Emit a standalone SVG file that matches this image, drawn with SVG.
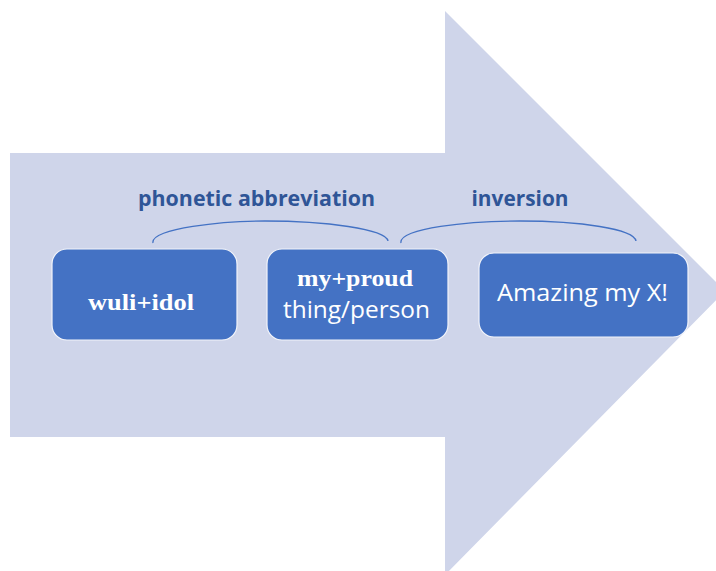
<svg xmlns="http://www.w3.org/2000/svg" width="716" height="571" viewBox="0 0 716 571">
<style>
.bg{fill:#CFD5EA}
.box{fill:#4472C4;stroke:#F2F4FA;stroke-width:1.2}
.arc{fill:none;stroke:#4472C4;stroke-width:1.3}
.lab{font-family:"Open Sans","Liberation Sans",sans-serif;font-weight:bold;fill:#2F5597;font-size:21px;text-anchor:middle}
.ser{font-family:"Liberation Serif",serif;font-weight:bold;fill:#FFFFFF;font-size:24px;text-anchor:middle}
.san{font-family:"Open Sans","Liberation Sans",sans-serif;fill:#FFFFFF;font-size:23px;text-anchor:middle}
</style>
<rect width="716" height="571" fill="#FFFFFF"/>
<polygon id="arrow" class="bg" points="10,153 445,153 445,11 725,291 445,575 445,437 10,437"/>
<g id="connectors">
<path class="arc" d="M153,243 C150,228 225,221 265,221 C325,221 386,229 388,241"/>
<path class="arc" d="M401,243 C398,228 470,221 520,221 C580,221 634,229 636,241"/>
</g>
<g id="label-phonetic">
<text class="lab" x="256.5" y="206" textLength="237" lengthAdjust="spacingAndGlyphs">phonetic abbreviation</text>
</g>
<g id="label-inversion">
<text class="lab" x="520" y="206" textLength="97" lengthAdjust="spacingAndGlyphs">inversion</text>
</g>
<g id="node-wuli">
<rect class="box" x="52" y="249" width="185" height="91" rx="15"/>
<text class="ser" x="141" y="310" textLength="106" lengthAdjust="spacingAndGlyphs">wuli+idol</text>
</g>
<g id="node-myproud">
<rect class="box" x="267" y="249" width="181" height="91" rx="15"/>
<text class="ser" x="355" y="286" textLength="116" lengthAdjust="spacingAndGlyphs">my+proud</text>
<text class="san" x="356.5" y="318" textLength="147" lengthAdjust="spacingAndGlyphs">thing/person</text>
</g>
<g id="node-amazing">
<rect class="box" x="479" y="253" width="209" height="84" rx="15"/>
<text class="san" x="582.5" y="301" textLength="171" lengthAdjust="spacingAndGlyphs">Amazing my X!</text>
</g>
</svg>
